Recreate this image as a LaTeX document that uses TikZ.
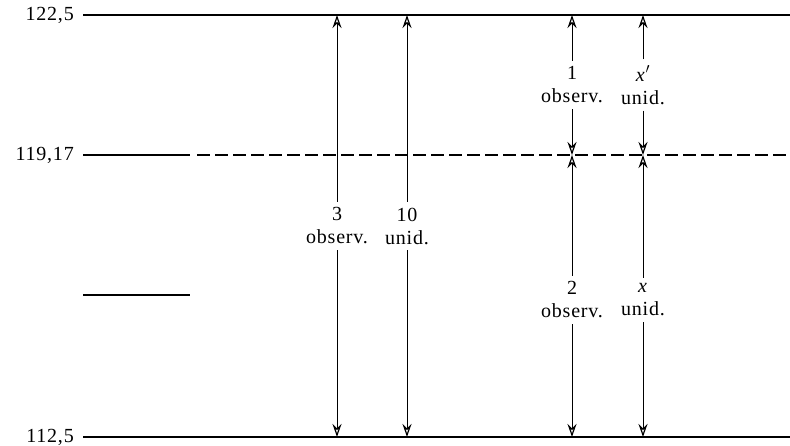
\documentclass[tikz,border=0pt]{standalone}
\usepackage{fontspec}
\setmainfont{Liberation Serif}
\newfontfamily\spacedserif[LetterSpace=4]{Liberation Serif}
\usetikzlibrary{arrows.meta}
\tikzset{
  lvl/.style={line width=1.2pt},
  val/.style={anchor=east, inner sep=0pt, font=\spacedserif\fontsize{20}{24}\selectfont},
  lab/.style={align=center, inner sep=6pt, font=\spacedserif\fontsize{20}{23}\selectfont},
  dim/.style={line width=1pt, -{Stealth[open,length=13pt,width=9pt,inset=4.5pt,line width=1.2pt]}},
}
\begin{document}
\begin{tikzpicture}[x=1pt,y=-1pt]
\useasboundingbox (0,0) rectangle (790,446);
% level lines
\coordinate (tl) at (83,15);  \coordinate (tr) at (790,15);
\coordinate (ml) at (83,155); \coordinate (mm) at (190,155); \coordinate (mr) at (790,155);
\coordinate (bl) at (83,437); \coordinate (br) at (790,437);
\coordinate (sl) at (83,295); \coordinate (sr) at (190,295);
\draw[lvl] (tl) -- (tr);
\draw[lvl] (bl) -- (br);
\draw[lvl] (ml) -- (mm);
\draw[lvl, dash pattern=on 13pt off 5pt] ([xshift=7pt]mm) -- (mr);
\draw[lvl] (sl) -- (sr);
% value labels
\node[val] (v1) at (74,15) {122,5};
\node[val] (v2) at (74,155) {119,17};
\node[val] (v3) at (74,437) {112,5};
% arrows, whole range
\node[lab] (a3) at (337,226) {3\\observ.};
\node[lab] (a10) at (407,226) {10\\unid.};
\coordinate (t3) at (337,15);  \coordinate (b3) at (337,437);
\coordinate (t10) at (407,15); \coordinate (b10) at (407,437);
\draw[dim] (a3) -- (t3);  \draw[dim] (a3) -- (b3);
\draw[dim] (a10) -- (t10); \draw[dim] (a10) -- (b10);
% upper part
\node[lab] (u1) at (572,85) {1\\observ.};
\node[lab] (ux) at (643,85) {\textit{x}$^{\prime}$\\unid.};
\coordinate (t1) at (572,15);  \coordinate (m1) at (572,155);
\coordinate (tx) at (643,15);  \coordinate (mx) at (643,155);
\draw[dim] (u1) -- (t1); \draw[dim] (u1) -- (m1);
\draw[dim] (ux) -- (tx); \draw[dim] (ux) -- (mx);
% lower part
\node[lab] (l2) at (572,300) {2\\observ.};
\node[lab] (lx) at (643,300) {\textit{x}\\unid.};
\coordinate (m2) at (572,155); \coordinate (b2) at (572,437);
\coordinate (my) at (643,155); \coordinate (by) at (643,437);
\draw[dim] (l2) -- (m2); \draw[dim] (l2) -- (b2);
\draw[dim] (lx) -- (my); \draw[dim] (lx) -- (by);
\end{tikzpicture}
\end{document}
